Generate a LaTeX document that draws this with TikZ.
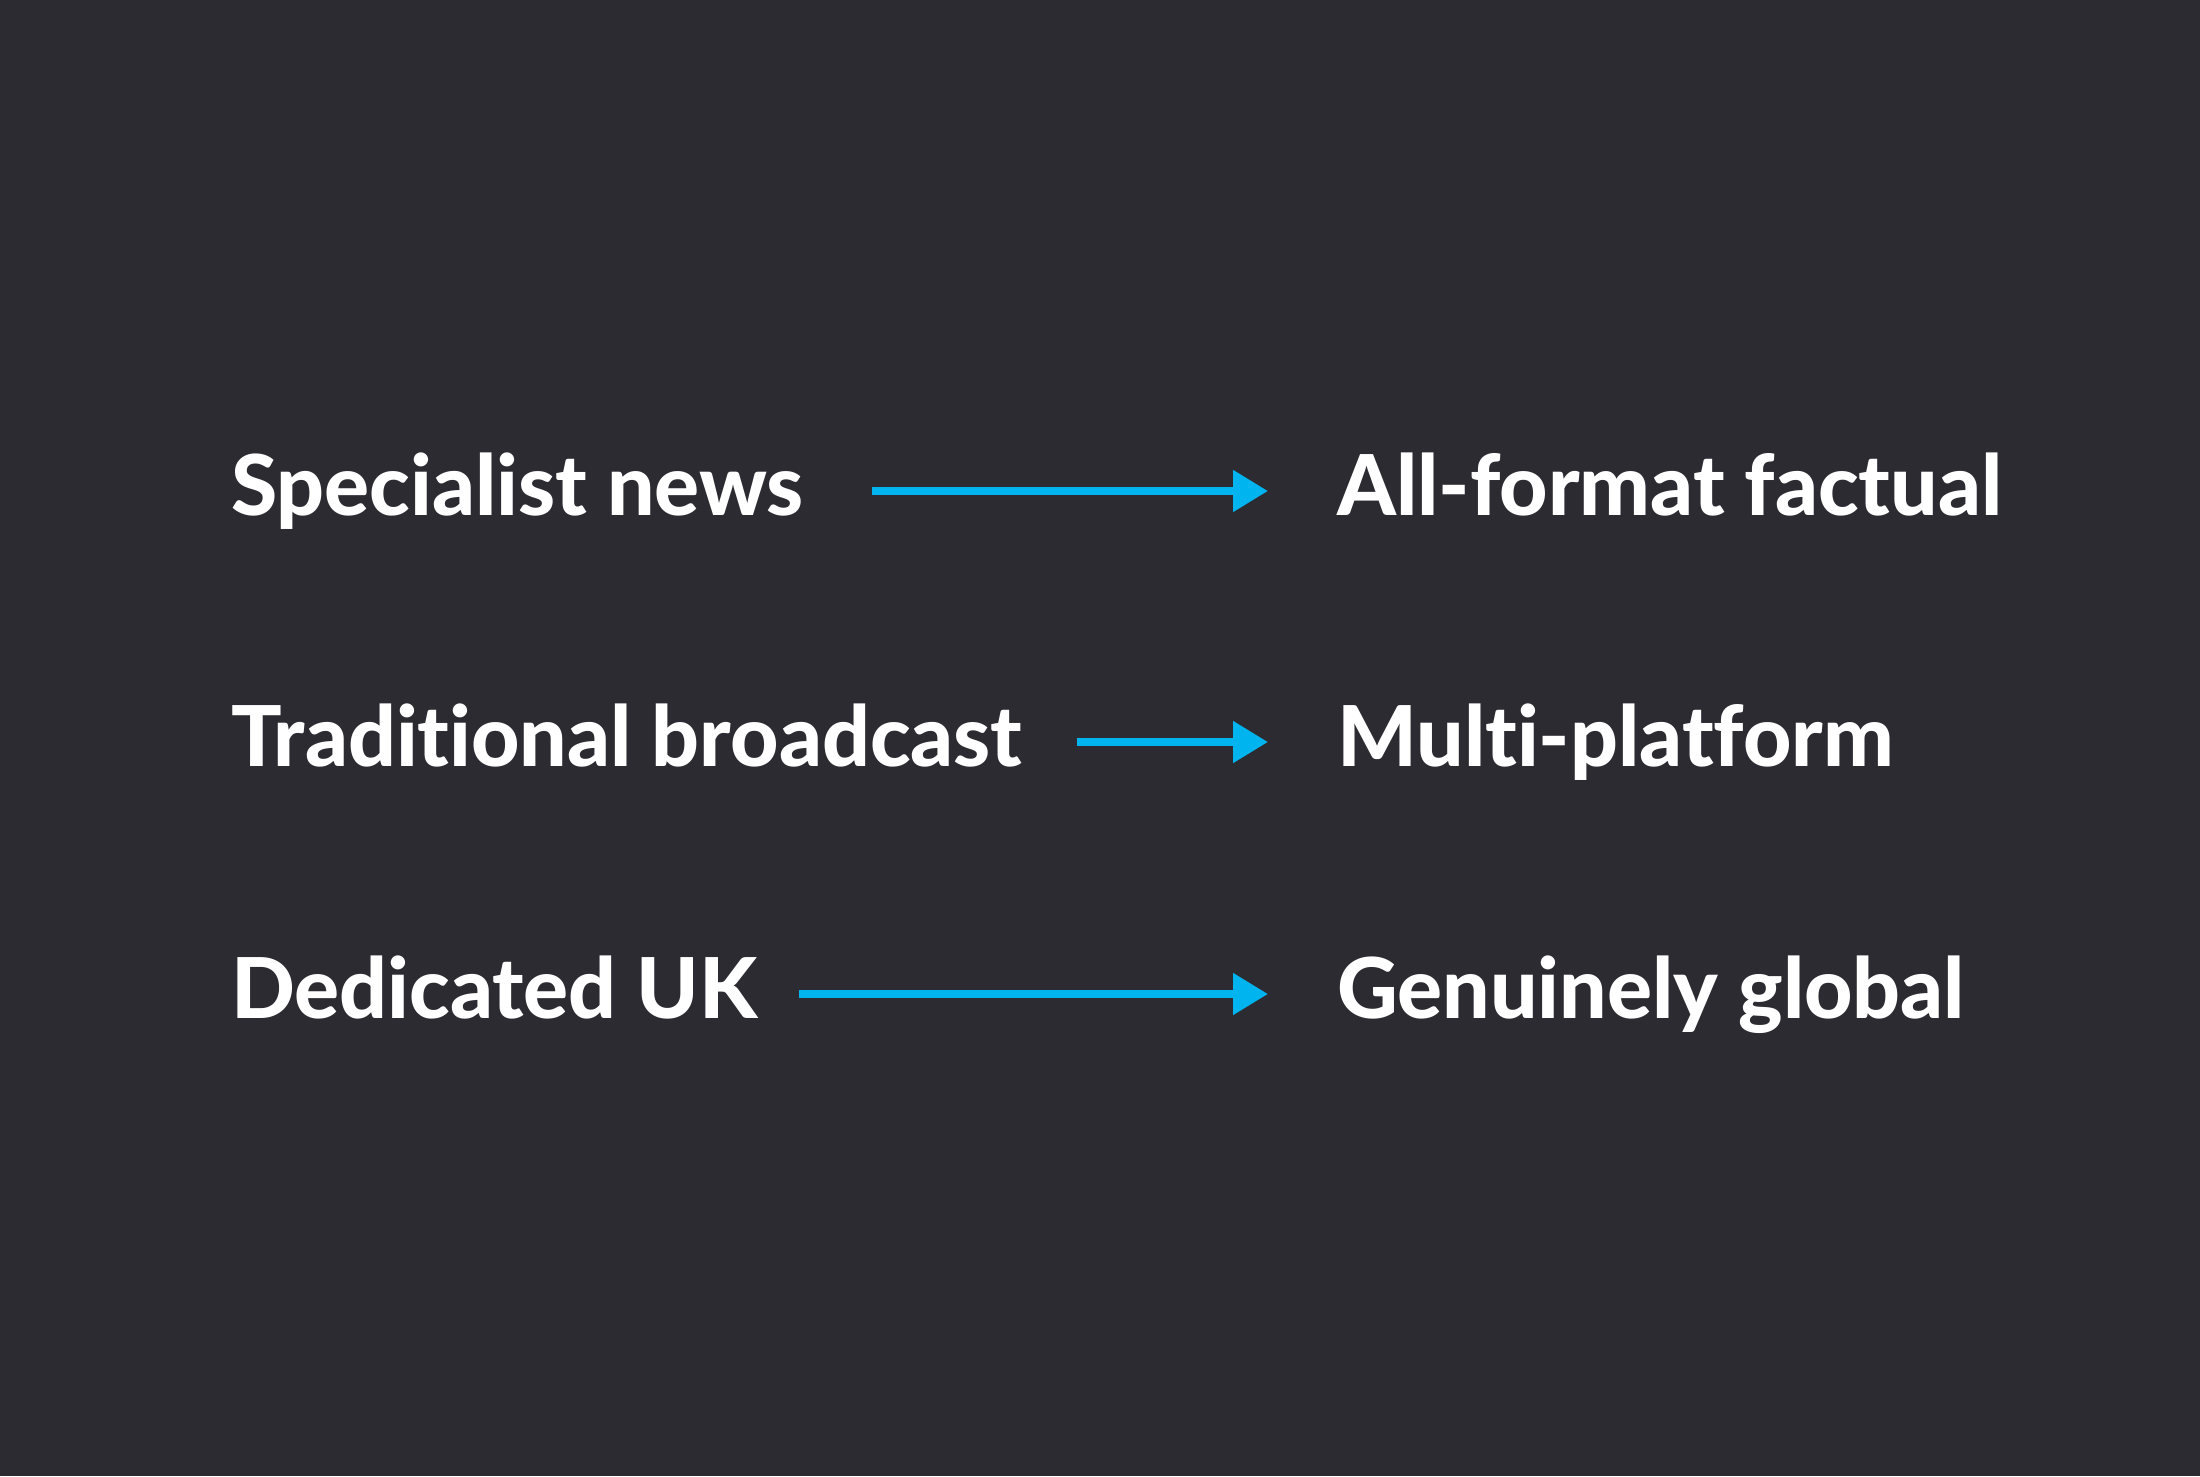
\documentclass[tikz,border=0pt]{standalone}
\usepackage{fontspec}
\setmainfont{Lato}[UprightFont=* Heavy,Ligatures=NoCommon]
\usetikzlibrary{arrows.meta}
\definecolor{bg}{HTML}{2C2B31}
\definecolor{arrowblue}{HTML}{00B4F0}
\begin{document}
\begin{tikzpicture}[x=1pt,y=-1pt,
  lbl/.style={anchor=base west,inner sep=0pt,text=white,font=\fontsize{84}{90}\selectfont},
  arr/.style={draw=arrowblue,line width=8pt,-{Triangle[length=35pt,width=40pt]},shorten >=69pt}]
\fill[bg] (0,0) rectangle (2200,1476);
\useasboundingbox (0,0) rectangle (2200,1476);
\node[lbl] (l1) at (231,515) {Specialist news};
\node[lbl] (l2) at (231,766) {Traditional broadcast};
\node[lbl] (l3) at (231,1018) {Dedicated UK};
\node[lbl] (r1) at (1337,515) {All-format factual};
\node[lbl] (r2) at (1337,766) {Multi-platform};
\node[lbl] (r3) at (1337,1018) {Genuinely global};
\draw[arr,shorten <=68pt] ([yshift=24pt]l1.base east) -- ([yshift=24pt]r1.base west);
\draw[arr,shorten <=54pt] ([yshift=24pt]l2.base east) -- ([yshift=24pt]r2.base west);
\draw[arr,shorten <=41pt] ([yshift=24pt]l3.base east) -- ([yshift=24pt]r3.base west);
\end{tikzpicture}
\end{document}
